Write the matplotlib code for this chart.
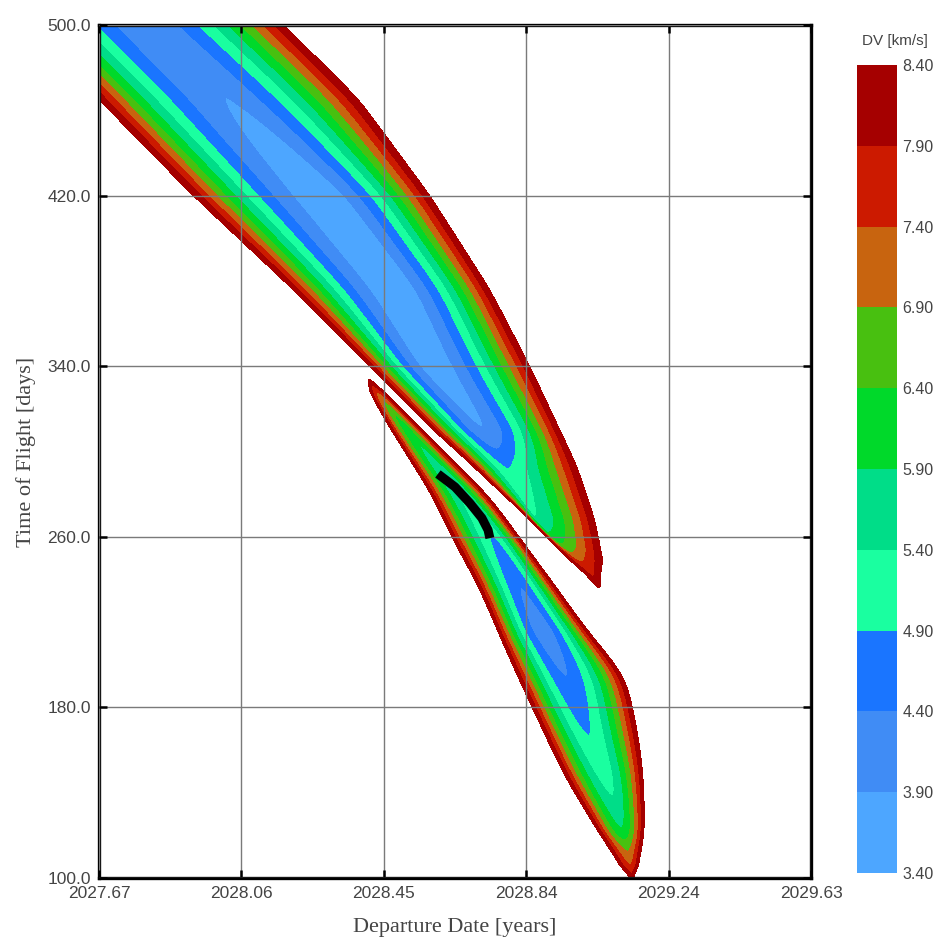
import numpy as np
import matplotlib
matplotlib.use("Agg")
import matplotlib.pyplot as plt

# DV contour levels and fill colours (km/s)
dv_levels = [3.40, 3.90, 4.40, 4.90, 5.40, 5.90, 6.40, 6.90, 7.40, 7.90, 8.40]
dv_colors = ["#4da6ff", "#408cf5", "#1a75ff", "#1affa0", "#00dd88",
             "#00d92a", "#48c010", "#c8640f", "#cc1a00", "#a50000"]

dep_tick_labels = ["2027.67", "2028.06", "2028.45", "2028.84", "2029.24", "2029.63"]
tof_ticks = [100.0, 180.0, 260.0, 340.0, 420.0, 500.0]

# Upper (long-transfer) lobe: per TOF slice, low/high departure edge of the
# 8.4 km/s contour, departure date of the valley and DV at the valley.
# The last knot lies past the closing tip (DV above the top level).
upper_tof = np.array([605, 559, 500, 465, 420, 376, 340, 310, 301, 293, 268, 256, 249, 241, 235, 226.0])
upper_lo = np.array([2026.819, 2027.122, 2027.466, 2027.670, 2027.929, 2028.204, 2028.416,
                     2028.589, 2028.650, 2028.700, 2028.856, 2028.925, 2028.967, 2029.015,
                     2029.035, 2029.048])
upper_hi = np.array([2027.560, 2027.835, 2028.179, 2028.386, 2028.581, 2028.746, 2028.856,
                     2028.939, 2028.964, 2028.986, 2029.035, 2029.049, 2029.057, 2029.064,
                     2029.068, 2029.070])
upper_valley = np.array([2027.191, 2027.480, 2027.810, 2028.028, 2028.295, 2028.493, 2028.595,
                         2028.733, 2028.766, 2028.793, 2028.870, 2028.939, 2029.002, 2029.035,
                         2029.055, 2029.062])
upper_dvmin = np.array([4.30, 4.15, 4.00, 3.90, 3.55, 3.50, 3.55, 3.90, 4.40, 4.90, 5.40, 6.40,
                        7.40, 7.90, 8.45, 10.0])

# Lower (short-transfer) lobe, same layout; outer knots past both tips
lower_tof = np.array([342.0, 334.5, 325.6, 316.2, 296.0, 280.5, 259.4, 236.5, 216.3, 194.3, 167.1,
                      149.2, 138.0, 122.5, 113.1, 105.2, 99.0, 92.0])
lower_lo = np.array([2028.385, 2028.394, 2028.422, 2028.452, 2028.526, 2028.584, 2028.642, 2028.716,
                     2028.766, 2028.823, 2028.898, 2028.947, 2028.986, 2029.041, 2029.077, 2029.108,
                     2029.132, 2029.140])
lower_hi = np.array([2028.400, 2028.410, 2028.471, 2028.526, 2028.642, 2028.738, 2028.829, 2028.928,
                     2029.013, 2029.121, 2029.154, 2029.168, 2029.170, 2029.173, 2029.165, 2029.152,
                     2029.146, 2029.146])
lower_valley = np.array([2028.392, 2028.400, 2028.446, 2028.490, 2028.587, 2028.669, 2028.760,
                         2028.832, 2028.892, 2028.958, 2029.016, 2029.063, 2029.085, 2029.110,
                         2029.126, 2029.135, 2029.140, 2029.143])
lower_dvmin = np.array([10.0, 8.45, 7.00, 6.30, 5.70, 5.35, 4.85, 4.40, 4.05, 4.40, 4.90,
                        5.15, 5.40, 5.90, 6.90, 7.40, 8.40, 10.0])

# selected launch window
window_dep = [2028.603, 2028.650, 2028.691, 2028.724, 2028.741, 2028.746]
window_tof = [289.5, 283.4, 275.8, 268.8, 263.2, 259.4]

DV_MAX = dv_levels[-1]


def smooth_profile(tof, k_tof, k_vals, sigma=5.0):
    """Piecewise-linear profile along TOF, rounded with a gaussian (sigma in days)."""
    order = np.argsort(k_tof)
    kt = k_tof[order]
    fine = np.linspace(kt[0], kt[-1], 3000)
    step = fine[1] - fine[0]
    prof = np.interp(fine, kt, k_vals[order])
    half = int(4 * sigma / step)
    kern = np.exp(-0.5 * (np.arange(-half, half + 1) * step / sigma) ** 2)
    kern /= kern.sum()
    prof = np.convolve(np.pad(prof, half, mode="edge"), kern, mode="valid")
    return np.interp(tof, fine, prof)


def lobe_field(dep, tof, k_tof, k_lo, k_hi, k_val, k_dv, p_lo=1.8, p_hi=1.8, sigma=5.0):
    lo = smooth_profile(tof, k_tof, k_lo, sigma)
    hi = smooth_profile(tof, k_tof, k_hi, sigma)
    val = smooth_profile(tof, k_tof, k_val, sigma)
    c = smooth_profile(tof, k_tof, k_dv, sigma=2.5)
    amp = np.maximum(DV_MAX - c, 1.0)  # keeps the rise positive near the tips
    t_hi = np.abs(dep - val) / np.maximum(hi - val, 1e-6)
    t_lo = np.abs(val - dep) / np.maximum(val - lo, 1e-6)
    dv = np.where(dep >= val, c + amp * t_hi ** p_hi, c + amp * t_lo ** p_lo)
    inside = (tof >= k_tof.min()) & (tof <= k_tof.max())
    return np.where(inside, dv, 99.0)


dep_lo, dep_hi = 2027.67, 2029.63
dep = np.linspace(dep_lo, dep_hi, 1000)
tof = np.linspace(100.0, 500.0, 1000)
D, T = np.meshgrid(dep, tof)
dv = np.fmin(lobe_field(D, T, upper_tof, upper_lo, upper_hi, upper_valley, upper_dvmin,
                        p_lo=1.9, p_hi=1.55, sigma=5.0),
             lobe_field(D, T, lower_tof, lower_lo, lower_hi, lower_valley, lower_dvmin,
                        p_lo=1.8, p_hi=1.7, sigma=7.0))

fig = plt.figure(figsize=(9.49, 9.41), dpi=100)
ax = fig.add_axes([0.1043, 0.0669, 0.7503, 0.9065])
cs = ax.contourf(D, T, dv, levels=dv_levels, colors=dv_colors, zorder=1)
ax.plot(window_dep, window_tof, color="black", lw=6.5, solid_capstyle="butt", zorder=4)

ax.set_xlim(dep_lo, dep_hi)
ax.set_ylim(100, 500)
ax.set_xticks(np.linspace(dep_lo, dep_hi, len(dep_tick_labels)))
ax.set_xticklabels(dep_tick_labels)
ax.set_yticks(tof_ticks)
ax.set_yticklabels([f"{v:.1f}" for v in tof_ticks])
ax.grid(True, color="#7a7a7a", lw=1.0, zorder=3)
ax.set_axisbelow(False)
for s in ax.spines.values():
    s.set_linewidth(2.4)
    s.set_color("black")
ax.tick_params(direction="in", top=True, right=True, length=6, width=1.8,
               labelsize=12.5, labelcolor="#444444", pad=6)
for lab in ax.get_xticklabels() + ax.get_yticklabels():
    lab.set_family("Liberation Sans")

ax.set_xlabel("Departure Date [years]", family="Liberation Serif", fontsize=16,
              color="#444444", labelpad=12)
ax.set_ylabel("Time of Flight [days]", family="Liberation Serif", fontsize=16,
              color="#444444", labelpad=8)

cax = fig.add_axes([0.903, 0.0723, 0.0421, 0.8587])
cb = fig.colorbar(cs, cax=cax, ticks=dv_levels, format="%.2f")
cb.outline.set_visible(False)
cax.tick_params(length=0, labelsize=11.5, labelcolor="#444444", pad=4)
for lab in cax.get_yticklabels():
    lab.set_family("Liberation Sans")
fig.text(0.943, 1 - 41 / 941, "DV [km/s]", ha="center", va="center",
         fontsize=11, color="#444444", family="Liberation Sans")

fig.savefig("out.png", dpi=100)
